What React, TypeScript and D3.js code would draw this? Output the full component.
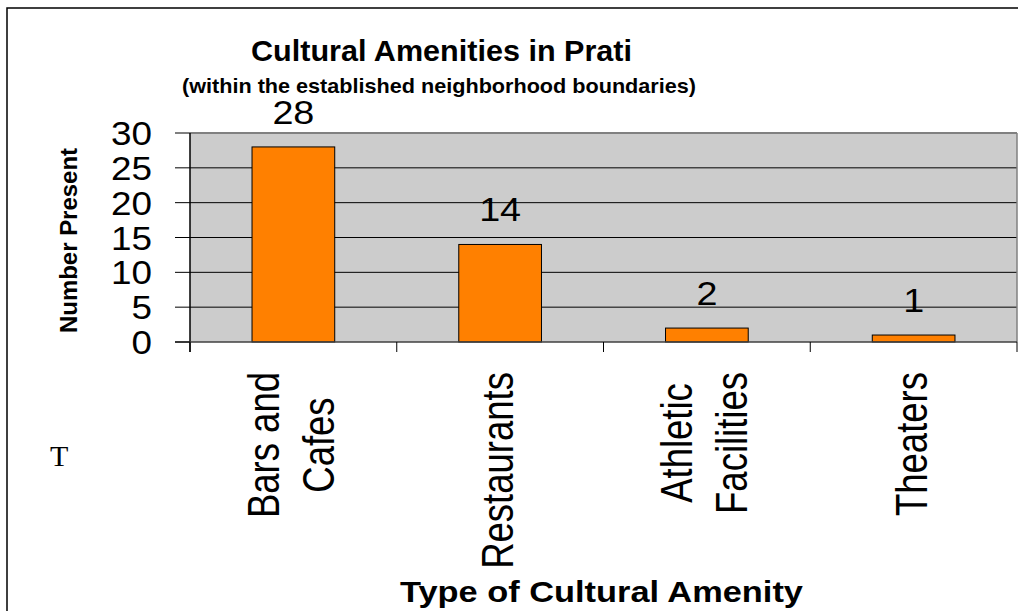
import React from "react";
import * as d3 from "d3";

const categories: string[] = ["Bars and\nCafes", "Restaurants", "Athletic\nFacilities", "Theaters"];
const counts: number[] = [28, 14, 2, 1];
const yTickValues: number[] = [0, 5, 10, 15, 20, 25, 30];
const titleText = "Cultural Amenities in Prati";
const subtitleText = "(within the established neighborhood boundaries)";
const xAxisTitle = "Type of Cultural Amenity";
const yAxisTitle = "Number Present";

const SANS = "'Liberation Sans', Arial, Helvetica, sans-serif";

function measure(text: string, font: string): number {
  try {
    const c = document.createElement("canvas");
    const ctx = c.getContext("2d");
    if (!ctx) return text.length * 18;
    ctx.font = font;
    return ctx.measureText(text).width;
  } catch (e) {
    return text.length * 18;
  }
}

export default function App() {
  const W = 1018;
  const H = 611;
  const plotLeft = 190;
  const plotRight = 1017;
  const plotTop = 133;
  const plotBottom = 342;

  const x = d3.scaleBand<string>().domain(categories).range([plotLeft, plotRight]).paddingInner(0).paddingOuter(0);
  const y = d3.scaleLinear().domain([0, 30]).range([plotBottom, plotTop]);
  const bw = x.bandwidth();
  const barW = bw * 0.4;

  const labelFs = 36.5;
  const labelFont = `${labelFs}px 'Liberation Sans', Arial, sans-serif`;
  const labelTop = 372;
  const lineGap = 55;
  const glyphScale = 1.22;

  const boundaries = categories.map((c) => x(c) as number).concat([plotRight]);

  return (
    <svg
      width={W}
      height={H}
      style={{ position: "absolute", left: 0, top: 0, background: "#fff" }}
      fontFamily={SANS}
    >
      <rect x={0} y={0} width={W} height={H} fill="#fff" />
      {/* outer frame */}
      <rect x={7} y={8} width={W + 20} height={H + 20} fill="none" stroke="#000" strokeWidth={1.5} />

      {/* titles */}
      <text x={441.5} y={61} textAnchor="middle" fontSize={30} fontWeight="bold" textLength={381} lengthAdjust="spacingAndGlyphs">
        {titleText}
      </text>
      <text x={439} y={93} textAnchor="middle" fontSize={20.5} fontWeight="bold" textLength={514} lengthAdjust="spacingAndGlyphs">
        {subtitleText}
      </text>

      {/* plot area */}
      <rect x={plotLeft} y={plotTop} width={plotRight - plotLeft} height={plotBottom - plotTop} fill="#cccccc" />
      {yTickValues.filter((v) => v > 0 && v < 30).map((v) => (
        <line key={"g" + v} x1={plotLeft} x2={plotRight} y1={y(v)} y2={y(v)} stroke="#000" strokeWidth={1} />
      ))}
      <line x1={plotLeft} x2={plotRight} y1={y(30)} y2={y(30)} stroke="#808080" strokeWidth={2} />
      <line x1={plotRight} x2={plotRight} y1={plotTop} y2={plotBottom} stroke="#808080" strokeWidth={1.5} />

      {/* bars */}
      {categories.map((c, i) => {
        const cx = (x(c) as number) + bw / 2;
        return (
          <rect
            key={"b" + c}
            x={cx - barW / 2}
            y={y(counts[i])}
            width={barW}
            height={y(0) - y(counts[i])}
            fill="#ff8000"
            stroke="#000"
            strokeWidth={1}
          />
        );
      })}

      {/* data labels */}
      {categories.map((c, i) => {
        const cx = (x(c) as number) + bw / 2;
        const s = String(counts[i]);
        return (
          <text
            key={"d" + c}
            x={cx}
            y={y(counts[i]) - 23}
            textAnchor="middle"
            fontSize={34}
            textLength={s.length * 21}
            lengthAdjust="spacingAndGlyphs"
          >
            {s}
          </text>
        );
      })}

      {/* y axis */}
      <line x1={plotLeft} x2={plotLeft} y1={plotTop} y2={plotBottom + 10} stroke="#000" strokeWidth={1.5} />
      <line x1={175} x2={plotRight} y1={y(0)} y2={y(0)} stroke="#404040" strokeWidth={1.5} />
      {yTickValues.map((v) => (
        <g key={"t" + v}>
          <line x1={175} x2={plotLeft} y1={y(v)} y2={y(v)} stroke="#000" strokeWidth={1} />
          <text
            x={152}
            y={y(v) + 12}
            textAnchor="end"
            fontSize={34}
            textLength={String(v).length * 20.5}
            lengthAdjust="spacingAndGlyphs"
          >
            {String(v)}
          </text>
        </g>
      ))}

      {/* x ticks */}
      {boundaries.map((bx, i) => (
        <line key={"xt" + i} x1={bx} x2={bx} y1={y(0)} y2={y(0) + 10} stroke="#000" strokeWidth={1} />
      ))}

      {/* category labels */}
      {categories.map((c) => {
        const lines = c.split("\n");
        const cx = (x(c) as number) + bw / 2;
        const maxLen = Math.max(...lines.map((l) => measure(l, labelFont)));
        const cy = labelTop + maxLen / 2;
        const n = lines.length;
        return (
          <g key={"cl" + c}>
            {lines.map((l, i) => {
              const bx = cx + 13 - ((n - 1) * lineGap) / 2 + i * lineGap;
              return (
                <text
                  key={l}
                  transform={`translate(${bx},${cy}) scale(${glyphScale},1) rotate(-90)`}
                  textAnchor="middle"
                  fontSize={labelFs}
                >
                  {l}
                </text>
              );
            })}
          </g>
        );
      })}

      {/* axis titles */}
      <text x={400} y={602} fontSize={29.5} fontWeight="bold" textLength={403} lengthAdjust="spacingAndGlyphs">
        {xAxisTitle}
      </text>
      <text
        transform={`translate(77,240.5) rotate(-90)`}
        textAnchor="middle"
        fontSize={24}
        fontWeight="bold"
        textLength={185}
        lengthAdjust="spacingAndGlyphs"
      >
        {yAxisTitle}
      </text>

      {/* stray letter */}
      <text x={50} y={466} fontSize={30} fontFamily="'Liberation Serif', 'Times New Roman', serif">
        T
      </text>
    </svg>
  );
}
